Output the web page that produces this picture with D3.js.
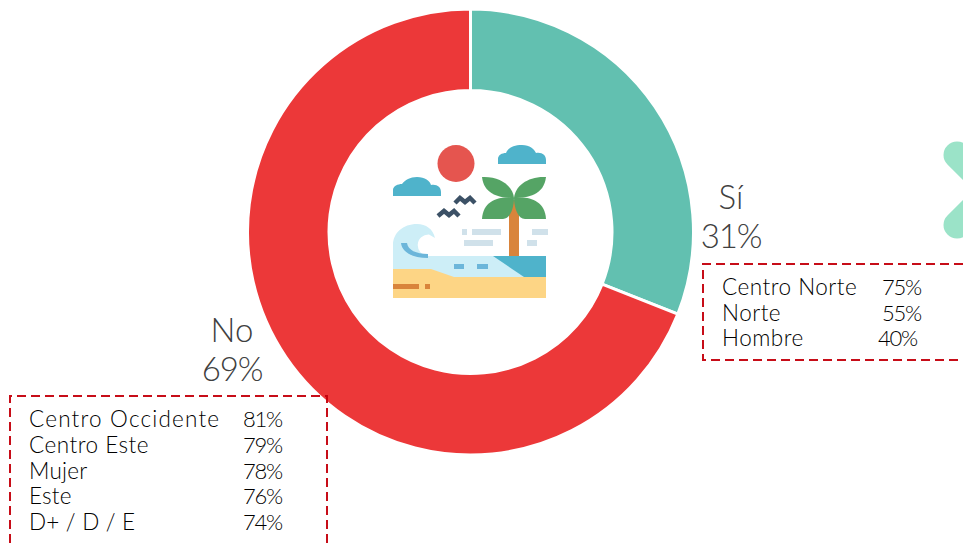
<!DOCTYPE html>
<html lang="en">
<head>
	<meta charset="UTF-8">
	<title>Donut</title>
	<script src="https://cdn.jsdelivr.net/npm/d3@7"></script>
	<style>
		html, body { margin: 0; padding: 0; background: #fff; overflow: hidden; }
		text { font-family: Lato, sans-serif; }
	</style>
</head>
<body>
	<svg id="chart" width="963" height="543"></svg>
</body>
<script>

const categories = ['Sí', 'No'];
const values = [31, 69];
const colors = ['#62c0b0', '#ec3839'];

const siLabels = ['Centro Norte', 'Norte', 'Hombre'];
const siValues = [75, 55, 40];
const noLabels = ['Centro Occidente', 'Centro Este', 'Mujer', 'Este', 'D+ / D / E'];
const noValues = [81, 79, 78, 76, 74];

const svg = d3.select('#chart');

// mint shape cut off by the right edge
svg.append('path')
	.attr('d', 'M957,155L992,190L957,225')
	.attr('fill', 'none')
	.attr('stroke', '#9be3c8')
	.attr('stroke-width', 27)
	.attr('stroke-linecap', 'round');

const pie = d3.pie().sort(null).value(d => d);
const arc = d3.arc().innerRadius(141.5).outerRadius(223);

svg.append('g')
	.attr('transform', 'translate(470.5,232)')
	.selectAll('path')
	.data(pie(values))
	.join('path')
	.attr('d', arc)
	.attr('fill', (d, i) => colors[i])
	.attr('stroke', '#fff')
	.attr('stroke-width', 3);

// slice labels
function sliceLabel(x, y, name, value){
	const g = svg.append('g').attr('fill', '#404040').attr('font-size', 33).attr('font-weight', 300).attr('text-anchor', 'middle');
	g.append('text').attr('x', x).attr('y', y).text(name);
	g.append('text').attr('x', x).attr('y', y + 39).attr('letter-spacing', -1.2).text(value + '%');
}
sliceLabel(731, 209, categories[0], values[0]);
sliceLabel(232, 342, categories[1], values[1]);

// dashed boxes
function box(path){
	svg.append('path')
		.attr('d', path)
		.attr('fill', 'none')
		.attr('stroke', '#c4000c')
		.attr('stroke-opacity', 0.95)
		.attr('stroke-width', 2)
		.attr('stroke-dasharray', '9 5');
}
box('M10,543V396H327V543');
box('M963,264H703V360H963');

function row(x, y, label, spacing){
	svg.append('text').attr('x', x).attr('y', y).attr('font-size', 22.5).attr('font-weight', 300).attr('fill', '#000').attr('letter-spacing', spacing).text(label);
}
function pct(x, y, value){
	svg.append('text').attr('x', x).attr('y', y).attr('font-size', 22).attr('font-weight', 300).attr('fill', '#000')
		.attr('letter-spacing', -1.2).attr('text-anchor', 'end').text(value + '%');
}

const rowY = d3.scalePoint().domain(d3.range(5)).range([427, 530]);
noLabels.forEach((d, i) => {
	row(29, rowY(i), d, i == 0 ? 1.2 : i == 1 ? 0.5 : 0.2);
	pct(282, rowY(i), noValues[i]);
});

const rowY2 = d3.scalePoint().domain(d3.range(3)).range([295, 346]);
siLabels.forEach((d, i) => {
	row(722, rowY2(i), d, 0.5);
	pct(i == 2 ? 917 : 921, rowY2(i), siValues[i]);
});

// beach icon in the middle of the ring
const icon = svg.append('g');
function shape(d, fill){ icon.append('path').attr('d', d).attr('fill', fill); }
function rect(x, y, w, h, fill){ icon.append('rect').attr('x', x).attr('y', y).attr('width', w).attr('height', h).attr('fill', fill); }

icon.append('circle').attr('cx', 456).attr('cy', 163.5).attr('r', 18.5).attr('fill', '#e5554f');

const cloud = '#4fb3cb';
shape('M498,164V159C498,155 502,153 506,153C508,148 513,145 522,145C530,145 534,149 536,153C542,152 546,155 546,160V164Z', cloud);
shape('M393,196V190C393,186 398,184 402,184C405,180 410,177 417,177C425,177 430,181 431,185C437,184 441,187 441,192V196Z', cloud);

// birds
const dark = '#3c5166';
icon.append('path').attr('d', 'M455,203L460,198L465,202L470,198L475,203')
	.attr('fill', 'none').attr('stroke', dark).attr('stroke-width', 4.5);
icon.append('path').attr('d', 'M438,216L444,211L449,215L454,211L459,216')
	.attr('fill', 'none').attr('stroke', dark).attr('stroke-width', 4.5);

// palm
rect(509, 200, 10, 56, '#d9843b');
const leaf = '#55a465';
shape('M514,198C513,186 500,176 482,177C484,195 500,198 514,198Z', leaf);
shape('M514,198C515,186 528,176 546,177C544,195 528,198 514,198Z', leaf);
shape('M514,198C500,196 483,200 482,219H503C510,219 514,208 514,198Z', leaf);
shape('M514,198C528,196 545,200 546,219H525C518,219 514,208 514,198Z', leaf);

// wind marks
const pale = '#d0e1ea';
rect(462, 229, 5, 6, pale);
rect(472, 229, 29, 6, pale);
rect(532, 229, 16, 6, pale);
rect(464, 240, 29, 6, pale);
rect(527, 240, 10, 6, pale);

// sea and wave
const water = '#cdeef7';
shape('M393,270V245C393,233 403,224 417,224C426,224 433,229 435,238L429,234.5A10.5,10.5 0 1 0 428,256H546V277H393Z', water);
shape('M401,243C402,252 412,258 428,258V254C416,254 408,250 407,243Z', '#6cb6da');
shape('M493,256H546V277H524Z', cloud);
rect(454, 264, 10, 5, '#6cb6da');
rect(477, 264, 11, 5, '#6cb6da');

// sand
shape('M393,269H431L454,277H546V298H393Z', '#fdd585');
rect(393, 284, 26, 5, '#d9843b');
rect(425, 284, 5, 5, '#d9843b');

</script>
</html>
